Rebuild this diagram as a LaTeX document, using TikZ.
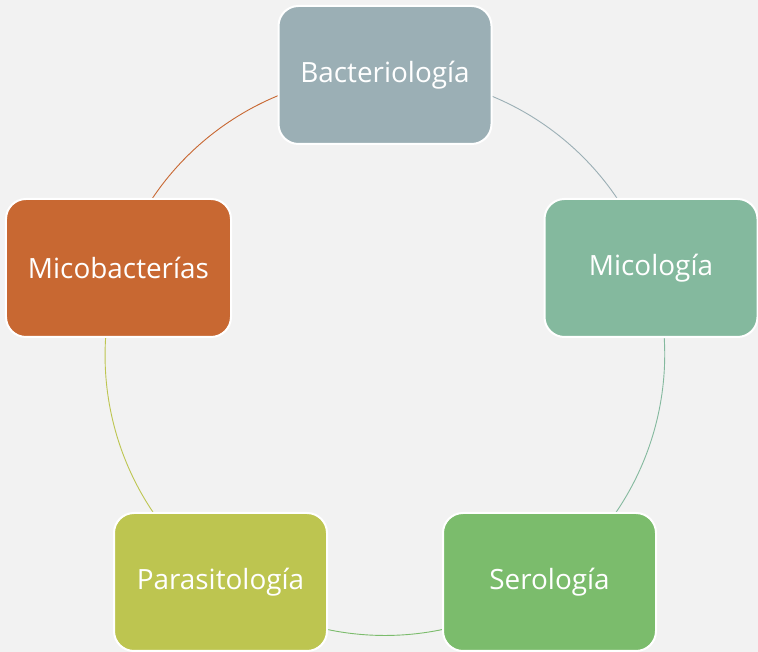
\documentclass[tikz,border=0pt]{standalone}
\usepackage{fontspec}
\setmainfont{Open Sans}
\usetikzlibrary{positioning,backgrounds}
\definecolor{fondo}{HTML}{F2F2F2}
\definecolor{bacgray}{HTML}{9BAFB5}
\definecolor{micgreen}{HTML}{84B99E}
\definecolor{sergreen}{HTML}{7BBC6C}
\definecolor{paryellow}{HTML}{BDC550}
\definecolor{mcborange}{HTML}{C86832}

\begin{document}
\begin{tikzpicture}[x=1bp,y=1bp,
      caja/.style={rectangle, rounded corners=20bp, draw=white, line width=2bp, minimum width=213bp, minimum height=138bp, text=white, font=\fontsize{28}{32}\selectfont},
      arco/.style={line width=0.9bp}]

\useasboundingbox (0,0) rectangle (758,652);
\coordinate (c) at (385,297);

\node[caja, fill=bacgray] (bac) at (385,577) {Bacteriología};
\node[caja, fill=micgreen] (mic) at (651,384) {Micología};
\node[caja, fill=sergreen] (ser) at (549.5,70) {Serología};
\node[caja, fill=paryellow] (par) at (220.5,70) {Parasitología};
\node[caja, fill=mcborange, minimum width=225bp] (mcb) at (118.5,384) {Micobacterías};

\begin{scope}[on background layer]
\fill[fondo] (0,0) rectangle (758,652);
\draw[arco, bacgray] (bac.center) arc[start angle=90, end angle=18, radius=280];
\draw[arco, micgreen] (mic.center) arc[start angle=18, end angle=-54, radius=280];
\draw[arco, sergreen] (ser.center) arc[start angle=-54, end angle=-126, radius=280];
\draw[arco, paryellow] (par.center) arc[start angle=-126, end angle=-198, radius=280];
\draw[arco, mcborange] (mcb.center) arc[start angle=162, end angle=90, radius=280];
\end{scope}

\end{tikzpicture}
\end{document}
